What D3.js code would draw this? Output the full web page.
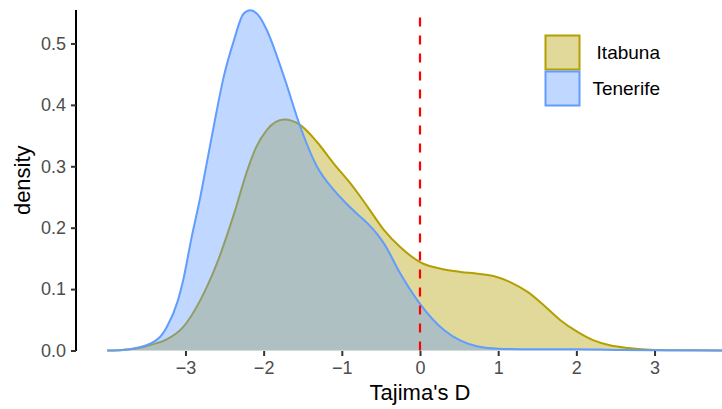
<!DOCTYPE html>
<html>
<head>
<meta charset="utf-8">
<script src="https://cdn.jsdelivr.net/npm/d3@7"></script>
<style>
  html, body { margin: 0; padding: 0; background: #ffffff; }
  svg { display: block; font-family: "Liberation Sans", Arial, Helvetica, sans-serif; }
</style>
</head>
<body>
<svg id="chart" width="722" height="409"></svg>
<script>
// Kernel density estimates of Tajima's D for two populations
const groups = ["Itabuna", "Tenerife"];
const groupColors = ["#B39F00", "#619CFF"];

const itabunaX = [-4.0, -3.8, -3.6, -3.45, -3.24, -3.03, -2.81, -2.6, -2.38, -2.21, -2.1, -1.96, -1.74, -1.53, -1.32, -1.1, -0.89, -0.67, -0.46, -0.25, 0.0, 0.31, 0.52, 0.74, 0.95, 1.16, 1.38, 1.59, 1.8, 2.02, 2.23, 2.44, 2.66, 3.0, 3.5, 4.0];
const itabunaY = [0.0, 0.001, 0.004, 0.009, 0.018, 0.038, 0.082, 0.141, 0.222, 0.293, 0.330, 0.359, 0.376, 0.367, 0.340, 0.304, 0.272, 0.234, 0.196, 0.168, 0.144, 0.132, 0.128, 0.125, 0.121, 0.111, 0.095, 0.073, 0.049, 0.030, 0.016, 0.008, 0.004, 0.001, 0.0003, 0.0];

const tenerifeX = [-4.0, -3.8, -3.6, -3.45, -3.3, -3.24, -3.1, -3.03, -2.92, -2.81, -2.75, -2.64, -2.51, -2.38, -2.26, -2.17, -2.05, -1.96, -1.74, -1.53, -1.32, -1.1, -0.94, -0.8, -0.67, -0.55, -0.46, -0.25, 0.0, 0.31, 0.52, 0.74, 1.0, 1.5, 2.0, 2.5, 3.0, 4.0];
const tenerifeY = [0.0, 0.001, 0.005, 0.011, 0.026, 0.038, 0.08, 0.114, 0.185, 0.25, 0.29, 0.364, 0.446, 0.505, 0.548, 0.554, 0.543, 0.522, 0.446, 0.364, 0.300, 0.261, 0.239, 0.222, 0.207, 0.190, 0.174, 0.125, 0.076, 0.033, 0.016, 0.0065, 0.003, 0.002, 0.002, 0.001, 0.0003, 0.0];

const xTicks = [-3, -2, -1, 0, 1, 2, 3];
const yTicks = [0.0, 0.1, 0.2, 0.3, 0.4, 0.5];
const refLine = 0;

const series = [
  { name: groups[0], color: groupColors[0], pts: itabunaX.map((x, i) => [x, itabunaY[i]]) },
  { name: groups[1], color: groupColors[1], pts: tenerifeX.map((x, i) => [x, tenerifeY[i]]) }
];

const svg = d3.select("#chart");
const panel = { left: 76, right: 764, top: 10, bottom: 350.5 };

const x = d3.scaleLinear().domain([-4.4, 4.4]).range([panel.left, panel.right]);
const y = d3.scaleLinear().domain([0, 0.5545]).range([panel.bottom, panel.top]);

svg.append("rect").attr("width", 722).attr("height", 409).attr("fill", "#ffffff");

const area = d3.area().x(d => x(d[0])).y0(y(0)).y1(d => y(d[1])).curve(d3.curveMonotoneX);
const line = d3.line().x(d => x(d[0])).y(d => y(d[1])).curve(d3.curveMonotoneX);

const layers = svg.append("g");
series.forEach(s => {
  layers.append("path").datum(s.pts).attr("d", area)
    .attr("fill", s.color).attr("fill-opacity", 0.4);
  layers.append("path").datum(s.pts).attr("d", line)
    .attr("fill", "none").attr("stroke", s.color).attr("stroke-width", 2);
});

// dashed reference line at D = 0, dash pattern running up from the baseline
svg.append("line")
  .attr("x1", x(refLine)).attr("x2", x(refLine))
  .attr("y1", panel.bottom).attr("y2", panel.top)
  .attr("stroke", "#FF0000").attr("stroke-width", 2.2)
  .attr("stroke-dasharray", "9,9");

// y axis
const yAxis = d3.axisLeft(y).tickValues(yTicks).tickFormat(d3.format(".1f")).tickSize(5).tickPadding(5);
const gy = svg.append("g").attr("transform", `translate(${panel.left},0)`).call(yAxis);
gy.select(".domain").attr("stroke", "#000000").attr("stroke-width", 2)
  .attr("d", `M0,${panel.bottom + 0.5}V${panel.top}`);
gy.selectAll(".tick line").attr("stroke", "#333333").attr("stroke-width", 2);
gy.selectAll(".tick text").attr("fill", "#4D4D4D").attr("font-size", 18).attr("font-family", null);

// x axis (ticks only)
const xAxis = d3.axisBottom(x).tickValues(xTicks).tickFormat(d => d < 0 ? "\u2212" + Math.abs(d) : d).tickSize(5).tickPadding(5);
const gx = svg.append("g").attr("transform", `translate(0,${panel.bottom + 0.5})`).call(xAxis);
gx.select(".domain").remove();
gx.selectAll(".tick line").attr("stroke", "#333333").attr("stroke-width", 2);
gx.selectAll(".tick text").attr("fill", "#4D4D4D").attr("font-size", 18).attr("font-family", null);

// axis titles
svg.append("text").attr("x", (panel.left + panel.right) / 2).attr("y", 400)
  .attr("text-anchor", "middle").attr("font-size", 22).attr("fill", "#000000")
  .text("Tajima's D");
svg.append("text").attr("transform", `translate(30,${(panel.top + panel.bottom) / 2}) rotate(-90)`)
  .attr("text-anchor", "middle").attr("font-size", 22).attr("fill", "#000000")
  .text("density");

// legend
const legend = svg.append("g");
series.forEach((s, i) => {
  const top = 35.5 + i * 36;
  legend.append("rect").attr("x", 545.5).attr("y", top).attr("width", 34).attr("height", 34)
    .attr("fill", "#ffffff");
  legend.append("rect").attr("x", 545.5).attr("y", top).attr("width", 34).attr("height", 34)
    .attr("fill", s.color).attr("fill-opacity", 0.4)
    .attr("stroke", s.color).attr("stroke-width", 2);
  legend.append("text").attr("x", 660).attr("y", top + 17).attr("dy", "0.35em")
    .attr("text-anchor", "end").attr("font-size", 19).attr("fill", "#000000")
    .text(s.name);
});
</script>
</body>
</html>
